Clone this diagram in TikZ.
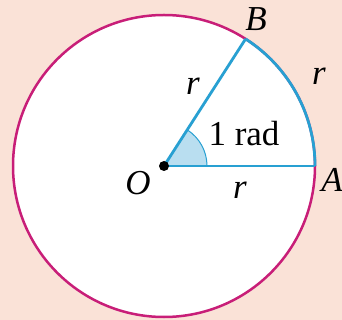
\documentclass[tikz,border=0pt]{standalone}
\usepackage{fontspec}
\setmainfont{Liberation Serif}
\usetikzlibrary{calc}
\definecolor{bgpeach}{RGB}{250,226,215}
\definecolor{rimmagenta}{RGB}{200,30,120}
\definecolor{radblue}{RGB}{40,160,210}
\definecolor{wedgeblue}{RGB}{185,222,240}
\begin{document}
\begin{tikzpicture}[x=1pt,y=-1pt]
\useasboundingbox (0,0) rectangle (342,320);
\fill[bgpeach] (0,0) rectangle (342,320);
\coordinate (O) at (164,166);
\coordinate (A) at (315,166);
\coordinate (B) at ($(O)+(-57.3:151)$);
\filldraw[fill=white,draw=rimmagenta,line width=2.5pt] (O) circle (151);
\fill[wedgeblue] (O) -- ++(43,0) arc[start angle=0,end angle=-57.3,radius=43] -- cycle;
\draw[radblue,line width=1pt] ($(O)+(43,0)$) arc[start angle=0,end angle=-57.3,radius=43];
\draw[radblue,line width=2.8pt] (A) arc[start angle=0,end angle=-57.3,radius=151];
\draw[radblue,line width=2.8pt] (O) -- (A);
\draw[radblue,line width=2.8pt] (O) -- (B);
\fill[black] (O) circle (5);
\node[font=\fontsize{35}{40}\selectfont\itshape] (labB) at (256,19) {B};
\node[font=\fontsize{35}{40}\selectfont\itshape] (labA) at (332,180) {A};
\node[font=\fontsize{35}{40}\selectfont\itshape] (labO) at (138,183) {O};
\node[font=\fontsize{35}{40}\selectfont\itshape] (rOB) at (193,86) {r};
\node[font=\fontsize{35}{40}\selectfont\itshape] (rAB) at (319,76) {r};
\node[font=\fontsize{35}{40}\selectfont\itshape] (rOA) at (240,190) {r};
\node[font=\fontsize{35}{40}\selectfont] (rad) at (244,134) {1 rad};
\end{tikzpicture}
\end{document}
